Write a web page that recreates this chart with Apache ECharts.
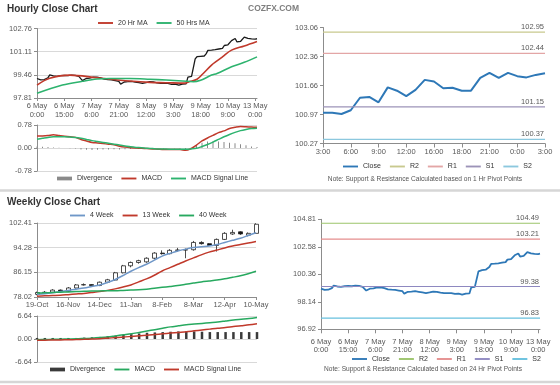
<!DOCTYPE html>
<html><head><meta charset="utf-8">
<script src="https://cdn.jsdelivr.net/npm/echarts/dist/echarts.min.js"></script>
<style>html,body{margin:0;padding:0;background:#fff}#c{width:560px;height:385px}</style>
</head><body><div id="c"></div>
<script>
// ---------- DATA ----------
const hourTicks = ['6 May\n0:00','6 May\n15:00','7 May\n6:00','7 May\n21:00','8 May\n12:00','9 May\n3:00','9 May\n18:00','10 May\n9:00','13 May\n0:00'];
const hourClose = [
99.2,99.15,99.1,99.18,99.12,99.2,99.25,
99.45,99.4,99.38,99.42,99.35,99.38,99.4,99.36,99.42,99.45,99.4,99.38,99.44,99.47,99.42,99.4,99.35,99.3,
99.05,99.1,99.2,99.15,99.22,99.28,99.3,99.25,99.3,99.28,
99.25,99.2,99.15,99.1,99.12,99.05,99.1,99.0,99.05,98.95,99.0,
98.8,98.85,98.95,99.0,98.97,98.95,99.0,98.92,98.95,98.88,98.9,98.95,98.85,
98.72,98.9,98.95,98.97,98.92,98.95,98.9,98.88,98.92,98.85,98.88,98.85,98.82,98.85,98.8,98.78,98.75,98.8,98.78,98.72,98.75,98.8,98.85,98.82,
99.3,99.32,99.35,99.4,
100.6,100.75,100.7,100.78,100.74,100.8,100.95,101.2,101.18,101.22,101.2,101.25,101.22,101.3,101.28,101.35,101.55,101.5,101.6,101.7,101.9,101.85,102.05,101.8,101.82,101.85,101.8,102.15,102.1,102.05,102.1,102.02,102.05,102.0,102.03];
const ma20Hr = [[0,98.73],[7,99.21],[18,99.44],[33,99.25],[51,99.02],[62,98.92],[71,98.9],[81,98.87],[84,98.98],[88,99.15],[91,99.5],[96,100.15],[99,100.45],[102,100.74],[107,101.22],[114,101.52],[121,101.84]];
const ma50Hr = [[0,98.14],[14,98.73],[25,99.0],[33,99.16],[40,99.2],[51,99.2],[62,99.15],[71,99.09],[80,99.02],[86,98.97],[90,99.08],[96,99.44],[99,99.56],[107,100.03],[114,100.35],[121,100.74]];
const hourPriceTicks = ['97.81','99.46','101.11','102.76'];

const hMacd = [0.41,0.41,0.42,0.45,0.42,0.40,0.38,0.36,0.29,0.24,0.19,0.17,0.15,0.13,0.11,0.06,0.03,0.01,0.0,-0.01,-0.02,-0.03,-0.04,-0.05,-0.05,-0.05,-0.05,-0.08,-0.02,0.10,0.24,0.34,0.43,0.52,0.58,0.66,0.70,0.73,0.72,0.71,0.70];
const hSignal = [0.30,0.33,0.36,0.38,0.38,0.38,0.37,0.36,0.33,0.29,0.25,0.22,0.19,0.16,0.13,0.10,0.07,0.04,0.02,0.01,-0.01,-0.02,-0.03,-0.03,-0.04,-0.04,-0.04,-0.04,-0.03,-0.01,0.05,0.12,0.20,0.29,0.38,0.46,0.53,0.59,0.63,0.66,0.67];
const hDiv = [0.05,0.04,0.03,0.02,0.01,0.0,-0.01,-0.02,-0.05,-0.06,-0.07,-0.06,-0.05,-0.05,-0.04,-0.05,-0.04,-0.03,-0.02,-0.02,-0.01,-0.01,-0.01,-0.02,-0.01,-0.01,-0.02,-0.04,0.01,0.10,0.18,0.22,0.23,0.22,0.20,0.18,0.16,0.13,0.09,0.05,0.03];
const hMacdTicks = ['-0.78','0.00','0.78'];

const pivotHourTicks = ['3:00','6:00','9:00','12:00','16:00','18:00','21:00','0:00','3:00'];
const pivotClose1h = [101.01,101.01,100.98,101.07,101.37,101.39,101.26,101.62,101.54,101.41,101.56,101.80,101.76,101.60,101.61,101.54,101.54,101.85,101.97,101.85,101.97,101.89,101.86,101.92,101.96];
const pivotNames = ['R2','R1','S1','S2'];
const pivot1hValues = [102.95,102.44,101.15,100.37];
const pivot1hTicks = ['100.27','100.97','101.66','102.36','103.06'];

const pivot24hValues = [104.49,103.21,99.38,96.83];
const pivot24hTicks = ['96.92','98.14','100.36','102.58','104.81'];

const weekDates = ['19-Oct','26-Oct','2-Nov','9-Nov','16-Nov','23-Nov','30-Nov','7-Dec','14-Dec','21-Dec','28-Dec','4-Jan','11-Jan','18-Jan','25-Jan','1-Feb','8-Feb','15-Feb','22-Feb','1-Mar','8-Mar','15-Mar','22-Mar','29-Mar','12-Apr','19-Apr','26-Apr','3-May','10-May'];
const weekOHLC = [
[78.9,79.5,78.6,79.8],[79.5,79.6,79.2,80.0],[79.6,80.3,79.4,80.6],[80.3,79.9,79.6,80.5],[79.9,81.0,79.7,81.3],
[81.0,82.0,80.8,82.3],[82.0,82.1,81.8,82.5],[82.1,81.8,81.6,82.3],[81.8,82.9,81.6,83.1],[82.9,83.7,82.6,84.0],
[83.6,86.0,83.4,86.3],[86.0,88.3,85.8,88.6],[88.3,89.4,87.8,89.7],[89.4,90.0,89.0,90.3],[89.6,90.8,89.3,91.1],
[90.8,92.5,90.5,92.8],[92.5,92.3,92.0,93.4],[92.3,93.4,92.1,93.8],[93.4,93.5,93.0,94.2],[93.5,93.6,90.8,94.0],
[93.6,96.0,93.3,96.5],[96.0,95.6,95.3,96.4],[95.6,95.0,94.8,95.8],[95.0,97.0,93.0,97.3],[97.0,99.0,96.8,99.4],
[98.8,99.3,98.5,100.2],[99.5,98.8,98.5,99.7],[98.4,99.0,98.0,99.3],[99.0,102.0,98.8,102.3]];
const wk4 = [78.9,79.1,79.4,79.8,80.2,80.6,81.0,81.5,82.0,82.8,83.8,85.1,86.5,87.7,88.8,90.2,91.5,92.4,93.2,93.8,94.3,94.6,94.8,95.3,96.0,96.7,97.4,98.3,99.2];
const wk13 = [78.3,78.4,78.5,78.6,78.8,79.0,79.2,79.5,79.8,80.2,80.7,81.3,82.0,83.0,84.0,85.2,86.6,87.7,88.8,89.9,90.9,91.9,92.8,93.5,94.2,94.8,95.3,95.8,96.3];
const wk40 = [79.3,79.4,79.5,79.6,79.7,79.8,79.9,80.0,80.0,80.1,80.1,80.2,80.3,80.4,80.6,80.9,81.2,81.5,81.8,82.2,82.6,83.0,83.3,83.6,84.0,84.5,85.0,85.7,86.5];
const weekTicks = ['78.02','86.15','94.28','102.41'];
const wMacd = [-0.2,-0.15,-0.1,-0.05,0.0,0.05,0.15,0.25,0.4,0.6,0.9,1.2,1.5,1.9,2.3,2.7,3.1,3.5,3.8,4.1,4.3,4.5,4.7,4.9,5.2,5.5,5.7,5.9,6.2];
const wSignal = [-0.35,-0.33,-0.3,-0.27,-0.22,-0.18,-0.1,0.0,0.1,0.25,0.4,0.55,0.75,0.95,1.1,1.3,1.5,1.7,1.9,2.1,2.35,2.6,2.85,3.1,3.3,3.6,3.85,4.1,4.4];
const wDiv = [0.3,0.3,0.3,0.3,0.3,0.3,0.4,0.5,0.6,0.8,1.0,1.2,1.4,1.6,1.8,1.9,2.0,2.1,2.2,2.2,2.2,2.1,2.0,2.0,2.0,2.0,2.0,2.0,2.0];
const wMacdTicks = ['-6.64','0.00','6.64'];

// ---------- STYLE HELPERS ----------
const FONT = '"Liberation Sans", Arial, sans-serif';
const LBL = {color:'#595959', fontSize:7.5, fontFamily:FONT};
const AXC = '#8c8c8c';
const GRIDC = '#d9d9d9';
const RED = '#C0392B', GREEN = '#2DB36E', BLUE = '#2E78B7';
const LINEICON = 'path://M0,0h16v2h-16z';
const BARICON = 'path://M0,0h16v4h-16z';
function tickFmt(labels, min, interval){ return v => labels[Math.round((v - min) / interval)] || ''; }
function idx(arr){ return arr.map((_, i) => String(i)); }

function valAxis(gi, min, max, interval, labels, opts){
  return Object.assign({
    type:'value', gridIndex:gi, min:min, max:max, interval:interval,
    axisLine:{show:true, lineStyle:{color:AXC}},
    axisTick:{show:true, length:3, lineStyle:{color:AXC}},
    axisLabel:Object.assign({}, LBL, {margin:5, formatter:tickFmt(labels, min, interval)}),
    splitLine:{show:true, lineStyle:{color:GRIDC, width:1}}
  }, opts || {});
}
function catAxis(gi, data, every, fmt, opts){
  return Object.assign({
    type:'category', gridIndex:gi, data:data, boundaryGap:false,
    axisLine:{show:true, lineStyle:{color:AXC}},
    axisTick:{show:true, interval:every-1, length:3, lineStyle:{color:AXC}},
    axisLabel:Object.assign({}, LBL, {interval:every-1, margin:4, lineHeight:8.5, formatter:fmt}),
    splitLine:{show:false}
  }, opts || {});
}
function lineS(name, xi, data, color, width, extra){
  return Object.assign({
    type:'line', name:name, xAxisIndex:xi, yAxisIndex:xi, data:data, symbol:'none',
    lineStyle:{color:color, width:width}, itemStyle:{color:color}, silent:true
  }, extra || {});
}
function pivotS(name, xi, n, value, color){
  return {
    type:'line', name:name, xAxisIndex:xi, yAxisIndex:xi, symbol:'none', silent:true,
    lineStyle:{color:color, width:1.2}, itemStyle:{color:color},
    data:[[0, value], [n - 1, value]],
    endLabel:{show:true, align:'right', verticalAlign:'bottom', distance:0, offset:[-1, -1],
      color:'#595959', fontSize:7.5, fontFamily:FONT, formatter:p => p.value[1].toFixed(2)}
  };
}
function legendBox(left, top, items){
  return {left:left, top:top, padding:0, itemWidth:15, itemHeight:6, itemGap:9, selectedMode:false,
    textStyle:{color:'#333', fontSize:7, fontFamily:FONT},
    formatter:n => n.split('_')[0], data:items};
}

const hourCats = idx(hourClose);
const hourFmt = (v, i) => hourTicks[i / 15] || '';
const pivCats = idx(pivotClose1h);
const pivFmt = (v, i) => pivotHourTicks[i / 3] || '';
const weekFmt = (v, i) => weekDates[i];

const pivot1hColors = ['#C8C98E','#E3A6A6','#9C93B8','#8CC8DE'];
const pivot24hColors = ['#9BC46A','#E58E8E','#8E88C0','#67C0DE'];

const series = [
  lineS('HourClose', 0, hourClose, '#1a1a1a', 1.3),
  lineS('20 Hr MA', 0, ma20Hr, RED, 1.6, {smooth:0.35}),
  lineS('50 Hrs MA', 0, ma50Hr, GREEN, 1.6, {smooth:0.35}),
  {type:'bar', name:'Divergence', xAxisIndex:1, yAxisIndex:1, data:hDiv, barWidth:1, itemStyle:{color:'#8a8a8a'}, silent:true},
  lineS('MACD', 1, hMacd, RED, 1.5, {smooth:0.3}),
  lineS('MACD Signal Line', 1, hSignal, GREEN, 1.5, {smooth:0.3}),
  lineS('Close', 2, pivotClose1h, BLUE, 2),
  {type:'candlestick', name:'WeekOHLC', xAxisIndex:3, yAxisIndex:3, data:weekOHLC, barWidth:4.5, silent:true,
    itemStyle:{color:'#fff', color0:'#111', borderColor:'#222', borderColor0:'#222', borderWidth:0.8}},
  lineS('4 Week', 3, wk4, '#6F97C8', 1.5, {smooth:0.3}),
  lineS('13 Week', 3, wk13, RED, 1.5, {smooth:0.3}),
  lineS('40 Week', 3, wk40, '#27A95F', 1.5, {smooth:0.3}),
  {type:'bar', name:'Divergence_w', xAxisIndex:4, yAxisIndex:4, data:wDiv, barWidth:2.5, itemStyle:{color:'#3a3a3a'}, silent:true},
  lineS('MACD_w', 4, wMacd, '#27A95F', 1.5, {smooth:0.3}),
  lineS('MACD Signal Line_w', 4, wSignal, RED, 1.5, {smooth:0.3}),
  lineS('Close_d', 5, hourClose, BLUE, 1.8)
];
pivotNames.forEach((n, k) => series.push(pivotS(n, 2, pivotClose1h.length, pivot1hValues[k], pivot1hColors[k])));
pivotNames.forEach((n, k) => series.push(pivotS(n + '_d', 5, hourClose.length, pivot24hValues[k], pivot24hColors[k])));

const L = (name, icon) => ({name:name, icon:icon || LINEICON});

const option = {
  animation:false,
  backgroundColor:'#fff',
  grid:[
    {left:37, top:28.5, width:220, height:69.5},
    {left:37, top:125, width:220, height:46},
    {left:323, top:27.5, width:222, height:116},
    {left:37, top:223, width:219, height:74},
    {left:37, top:316, width:220, height:46},
    {left:321, top:219.3, width:219, height:110}
  ].map(g => Object.assign(g, {containLabel:false, outerBoundsMode:'none'})),
  xAxis:[
    catAxis(0, hourCats, 15, hourFmt, {}),
    catAxis(1, idx(hMacd), 1, () => '', {axisLine:{show:false}, axisTick:{show:false}, axisLabel:{show:false}}),
    catAxis(2, pivCats, 3, pivFmt, {axisTick:{show:true, interval:2, length:4, lineStyle:{color:AXC}}}),
    catAxis(3, weekDates, 4, weekFmt, {}),
    catAxis(4, idx(wMacd), 1, () => '', {axisLine:{show:false}, axisTick:{show:false}, axisLabel:{show:false}}),
    catAxis(5, hourCats, 15, hourFmt, {axisTick:{show:true, interval:14, length:4, lineStyle:{color:AXC}},
      axisLabel:Object.assign({}, LBL, {interval:14, margin:8, lineHeight:8.5, formatter:hourFmt})})
  ],
  yAxis:[
    valAxis(0, 97.81, 102.76, 1.65, hourPriceTicks),
    valAxis(1, -0.78, 0.78, 0.78, hMacdTicks),
    valAxis(2, 100.27, 103.06, 0.6975, pivot1hTicks, {splitLine:{show:false}}),
    valAxis(3, 78.02, 102.41, 8.13, weekTicks),
    valAxis(4, -6.64, 6.64, 6.64, wMacdTicks),
    valAxis(5, 95.92, 104.81, 2.2225, pivot24hTicks, {splitLine:{show:false}})
  ],
  legend:[
    legendBox(98, 19.5, [L('20 Hr MA'), L('50 Hrs MA')]),
    legendBox(57, 175, [L('Divergence', BARICON), L('MACD'), L('MACD Signal Line')]),
    legendBox(343, 163, [L('Close'), L('R2'), L('R1'), L('S1'), L('S2')]),
    legendBox(70, 212, [L('4 Week'), L('13 Week'), L('40 Week')]),
    legendBox(50, 366, [L('Divergence_w', BARICON), L('MACD_w'), L('MACD Signal Line_w')]),
    legendBox(352, 355.5, [L('Close_d'), L('R2_d'), L('R1_d'), L('S1_d'), L('S2_d')])
  ],
  graphic:[
    {type:'text', x:7, y:9.5, silent:true, style:{text:'Hourly Close Chart', fontSize:10, fontWeight:'bold', fontFamily:FONT, fill:'#333', align:'left', verticalAlign:'middle'}},
    {type:'text', x:248, y:8.5, silent:true, style:{text:'COZFX.COM', fontSize:8.5, fontWeight:'bold', fontFamily:FONT, fill:'#7f7f7f', align:'left', verticalAlign:'middle'}},
    {type:'text', x:7, y:202, silent:true, style:{text:'Weekly Close Chart', fontSize:10, fontWeight:'bold', fontFamily:FONT, fill:'#333', align:'left', verticalAlign:'middle'}},
    {type:'text', x:425, y:179, silent:true, style:{text:'Note: Support & Resistance Calculated based on 1 Hr Pivot Points', fontSize:6.6, fontFamily:FONT, fill:'#555', align:'center', verticalAlign:'middle'}},
    {type:'text', x:423, y:369, silent:true, style:{text:'Note: Support & Resistance Calculated based on 24 Hr Pivot Points', fontSize:6.6, fontFamily:FONT, fill:'#555', align:'center', verticalAlign:'middle'}},
    {type:'line', silent:true, shape:{x1:0, y1:190.5, x2:560, y2:190.5}, style:{stroke:'#d6d6d6', lineWidth:2.5}},
    {type:'line', silent:true, shape:{x1:0, y1:382, x2:560, y2:382}, style:{stroke:'#d6d6d6', lineWidth:2.5}}
  ],
  series:series
};
const chart = echarts.init(document.getElementById('c'), null, {renderer:'canvas'});
chart.setOption(option);
</script>
</body></html>
